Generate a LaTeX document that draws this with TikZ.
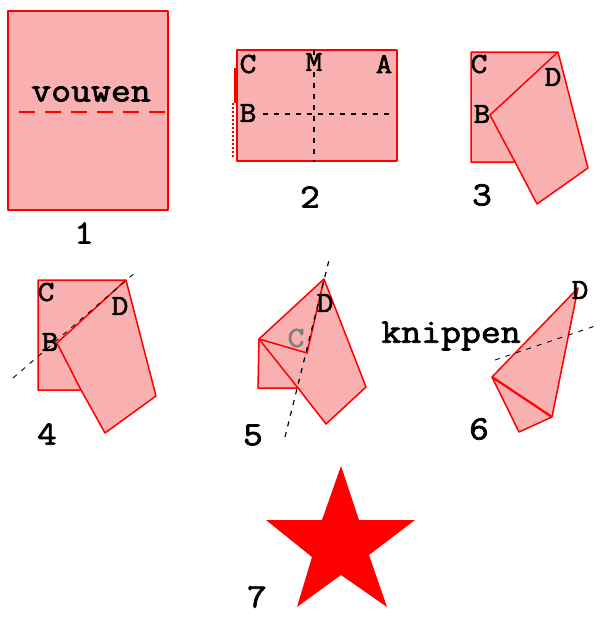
\documentclass[tikz,border=0pt]{standalone}
\usepackage{fontspec}
\newfontfamily\kop[FakeBold=2.2,FakeStretch=1.12]{Latin Modern Mono}
\definecolor{vel}{HTML}{F8B0B0}
\tikzset{
  papier/.style={draw=red,fill=vel,line width=1.5pt,line join=round},
  vouw/.style={draw=red,line width=1.5pt},
  snij/.style={draw=black,line width=1.2pt,dash pattern=on 5pt off 6pt},
  letter/.style={inner sep=0pt,font=\kop\fontsize{29}{29}\selectfont},
  woord/.style={inner sep=0pt,font=\kop\fontsize{34.5}{34.5}\selectfont},
  nummer/.style={inner sep=0pt,font=\kop\fontsize{34}{34}\selectfont},
}
\begin{document}
\begin{tikzpicture}[x=1pt,y=-1pt]
        \useasboundingbox (0,0) rectangle (605,619);
        % Stap 1
        \draw[papier] (8,11) rectangle (168,210);
        \node[woord] (vouwen) at (91,94) {vouwen};
        \draw[vouw,dash pattern=on 16pt off 10pt] (19,112) -- (165,112);
        \node[nummer] (nr1) at (84,233) {1};
        % Stap 2
        \draw[papier] (237,50) rectangle (397,161);
        \draw[vouw,line width=2pt] (235,68) -- (235,103);
        \draw[vouw,line width=2pt,dotted] (233,103) -- (233,158);
        \draw[snij] (263,114) -- (392,114);
        \draw[snij] (314,50) -- (314,162);
        \node[letter] (c2) at (248,64) {C};
        \node[letter] (m2) at (314,62) {M};
        \node[letter] (a2) at (384,64) {A};
        \node[letter] (b2) at (248,113) {B};
        \node[nummer] (nr2) at (310,197) {2};
        % Stap 3
        \draw[papier] (471,52) -- (558,52) -- (588,168) -- (537,204) -- (515,162) -- (471,162) -- cycle;
        \draw[vouw] (558,52) -- (490,115) -- (515,162);
        \node[letter] (c3) at (479,64) {C};
        \node[letter] (d3) at (553,77) {D};
        \node[letter] (b3) at (482,114) {B};
        \node[nummer] (nr3) at (482,195) {3};
        % Stap 4
        \draw[papier] (38,280) -- (126,280) -- (156,396) -- (105,433) -- (81,390) -- (38,390) -- cycle;
        \draw[vouw] (126,280) -- (57,343) -- (81,390);
        \draw[snij,line width=0.9pt] (13,378) -- (137,271);
        \node[letter] (c4) at (46,292) {C};
        \node[letter] (d4) at (120,306) {D};
        \node[letter] (b4) at (50,342) {B};
        \node[nummer] (nr4) at (47,434) {4};
        % Stap 5
        \draw[papier] (259,339) -- (324,279) -- (366,387) -- (326,424) -- (298,388) -- (258,388) -- cycle;
        \draw[vouw] (259,339) -- (307,353) -- (324,279);
        \draw[vouw] (259,339) -- (298,388);
        \draw[snij] (285,437) -- (329,260);
        \node[letter] (d5) at (325,303) {D};
        \node[letter,text=gray] (c5) at (296,338) {C};
        \node[nummer] (nr5) at (253,435) {5};
        % Stap 6
        \draw[papier] (578,288) -- (552,417) -- (519,432) -- (492,377) -- cycle;
        \draw[vouw,line width=2.2pt] (492,377) -- (552,417);
        \draw[snij,line width=0.9pt] (495,360) -- (598,325);
        \node[woord] (knippen) at (451,336) {knippen};
        \node[letter] (d6) at (580,290) {D};
        \node[nummer] (nr6) at (479,429) {6};
        % Stap 7
        \fill[red] (341,466) -- (359,520) -- (415,520) -- (369,555) -- (387,607) -- (341,575) -- (297,607) -- (312,557) -- (266,520) -- (322,520) -- cycle;
        \node[nummer] (nr7) at (257,597) {7};
    \end{tikzpicture}
\end{document}
